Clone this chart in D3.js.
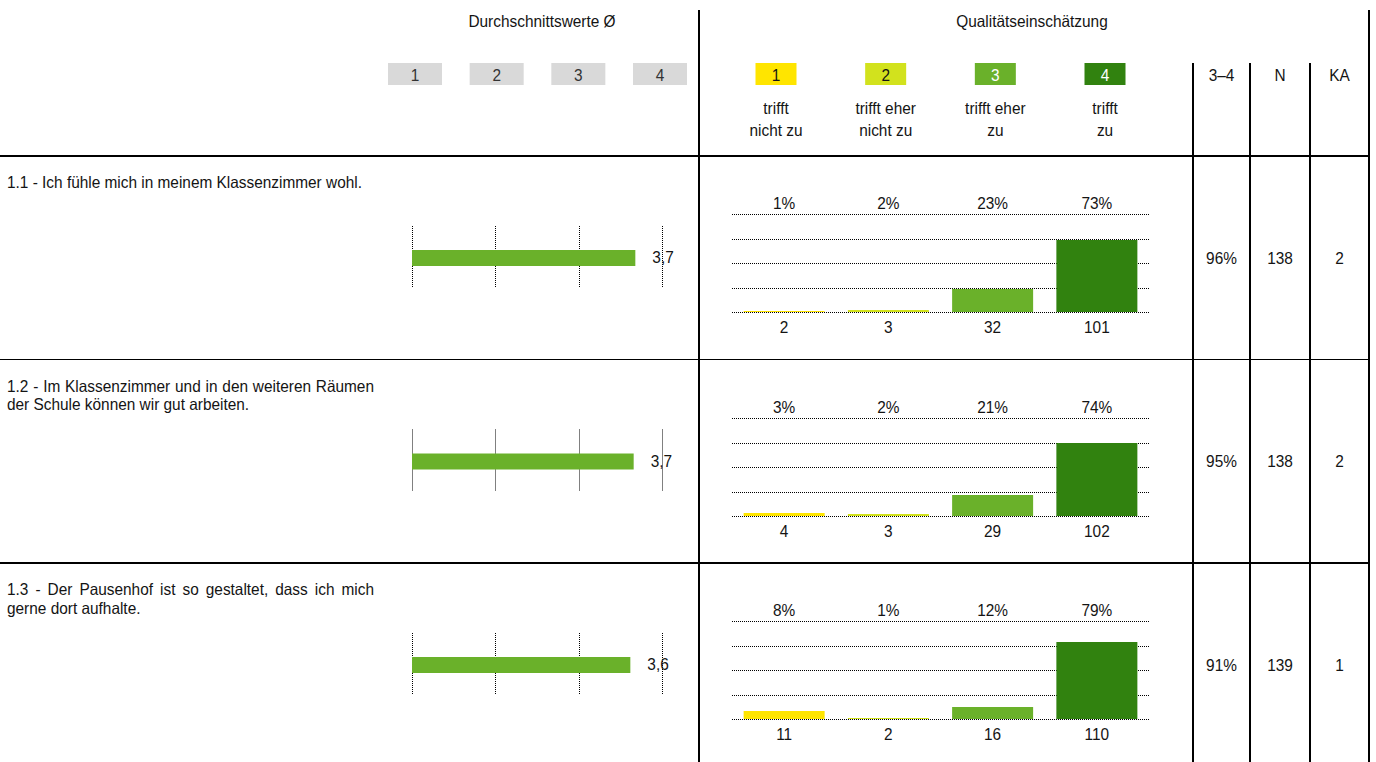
<!DOCTYPE html>
<html>
<head>
<meta charset="utf-8">
<script src="https://cdn.jsdelivr.net/npm/d3@7"></script>
<style>
  body { margin: 0; background: #fff; }
  text { font-family: "Liberation Sans", Arial, sans-serif; font-size: 16.3px; fill: #141414; }
</style>
</head>
<body>
<svg id="chart" width="1376" height="762"></svg>
<script>
// Survey items (one entry per row, one string per printed line)
const questions = [
  ["1.1 - Ich fühle mich in meinem Klassenzimmer wohl."],
  ["1.2 - Im Klassenzimmer und in den weiteren Räumen", "der Schule können wir gut arbeiten."],
  ["1.3 - Der Pausenhof ist so gestaltet, dass ich mich", "gerne dort aufhalte."]
];
const scaleSteps = [1, 2, 3, 4];
const answerLabels = [
  ["trifft", "nicht zu"],
  ["trifft eher", "nicht zu"],
  ["trifft eher", "zu"],
  ["trifft", "zu"]
];
// Answer counts per step 1..4
const counts = [
  [2, 3, 32, 101],
  [4, 3, 29, 102],
  [11, 2, 16, 110]
];
// Share of answers per step, in percent
const percents = [
  [1, 2, 23, 73],
  [3, 2, 21, 74],
  [8, 1, 12, 79]
];
const means = [3.68, 3.66, 3.62];
const topTwo = [96, 95, 91];      // share of answers 3–4, percent
const totalN = [138, 138, 139];
const noAnswer = [2, 2, 1];
const sideHeaders = ["3–4", "N", "KA"];

const colors = ["#ffe500", "#d2e21d", "#6ab12a", "#31820f"];
const ink = "#141414";

// the report font is set slightly condensed
const SX = 0.945;
const place = (x, y) => `translate(${x},${y}) scale(${SX},1)`;

const svg = d3.select("#chart");
const W = 1376, H = 762;
svg.append("rect").attr("width", W).attr("height", H).attr("fill", "#fff");

const rowTop = i => 156 + i * 203.5;

// ---------- scales ----------
const meanX = d3.scaleLinear().domain([1, 4]).range([412, 662]);
const meanHead = d3.scalePoint().domain(scaleSteps).range([415, 660]);
const legendX = d3.scalePoint().domain(scaleSteps).range([776, 1105]);
const barX = d3.scaleBand().domain(scaleSteps).range([732, 1149])
  .paddingInner(0.223).paddingOuter(0.1115);
const pctY = d3.scaleLinear().domain([0, 100]).range([0, 98]);
const sideX = d3.scaleOrdinal().domain(sideHeaders).range([1221.5, 1280, 1339.5]);
const fmtMean = v => d3.format(".1f")(v).replace(".", ",");

// ---------- table frame ----------
const frame = svg.append("g").attr("stroke", "#000").attr("stroke-width", 1.2).attr("shape-rendering", "crispEdges");
[0, 1, 2].forEach(i => {
  frame.append("line").attr("x1", 0).attr("x2", 1369).attr("y1", rowTop(i)).attr("y2", rowTop(i));
});
frame.append("line").attr("x1", 699).attr("x2", 699).attr("y1", 10).attr("y2", H);
frame.append("line").attr("x1", 1369).attr("x2", 1369).attr("y1", 10).attr("y2", H);
[1193, 1250, 1310].forEach(x => {
  frame.append("line").attr("x1", x).attr("x2", x).attr("y1", 63).attr("y2", H);
});

// ---------- header ----------
const head = svg.append("g");
head.append("text").attr("transform", place(542, 27)).attr("text-anchor", "middle").text("Durchschnittswerte Ø");
head.append("text").attr("transform", place(1032, 27)).attr("text-anchor", "middle").text("Qualitätseinschätzung");

const mh = head.selectAll(".mh").data(scaleSteps).join("g").attr("class", "mh");
mh.append("rect").attr("x", d => meanHead(d) - 27).attr("y", 63).attr("width", 54).attr("height", 22).attr("fill", "#d9d9d9");
mh.append("text").attr("transform", d => place(meanHead(d), 80.5)).attr("text-anchor", "middle")
  .style("fill", "#333").text(d => d);

const lg = head.selectAll(".lg").data(scaleSteps).join("g").attr("class", "lg");
lg.append("rect").attr("x", d => legendX(d) - 20.5).attr("y", 63).attr("width", 41).attr("height", 22).attr("fill", (d, i) => colors[i]);
lg.append("text").attr("transform", d => place(legendX(d), 80.5)).attr("text-anchor", "middle")
  .style("fill", d => d >= 3 ? "#fff" : ink).text(d => d);
lg.each(function (d, i) {
  d3.select(this).selectAll(".al").data(answerLabels[i]).join("text").attr("class", "al")
    .attr("transform", (t, j) => place(legendX(d), 114 + j * 21.5)).attr("text-anchor", "middle").text(t => t);
});

head.selectAll(".sh").data(sideHeaders).join("text").attr("class", "sh")
  .attr("transform", d => place(sideX(d), 80.5)).attr("text-anchor", "middle").text(d => d);

// ---------- rows ----------
questions.forEach((lines, i) => {
  const top = rowTop(i);
  const g = svg.append("g");

  // question text, non-final lines justified to the column width
  lines.forEach((line, j) => {
    const t = g.append("text").attr("transform", place(7, top + 32 + j * 18.5)).text(line);
    if (j < lines.length - 1) {
      const natural = t.node().getComputedTextLength();
      const gaps = (line.match(/ /g) || []).length;
      const target = (374 - 7) / SX;
      if (gaps > 0 && natural < target) t.attr("word-spacing", (target - natural) / gaps);
    }
  });

  // mean bar with dotted reference lines
  g.selectAll(".mg").data(scaleSteps).join("line").attr("class", "mg")
    .attr("x1", d => Math.round(meanX(d)) + 0.5).attr("x2", d => Math.round(meanX(d)) + 0.5)
    .attr("y1", top + 70).attr("y2", top + 132)
    .attr("stroke", "#000").attr("stroke-width", 1).attr("stroke-dasharray", "1,1");
  g.append("rect").attr("x", meanX(1)).attr("y", top + 94).attr("width", meanX(means[i]) - meanX(1)).attr("height", 16)
    .attr("fill", colors[2]);
  g.append("text").attr("transform", place(meanX(means[i]) + 17, top + 107)).text(fmtMean(means[i]));

  // distribution bars, snapped to whole pixels so thin bars stay visible
  const base = Math.round(top + 156);
  const barH = d => Math.max(1, Math.round(pctY(d)));
  g.selectAll(".qg").data([0, 25, 50, 75, 100]).join("line").attr("class", "qg")
    .attr("x1", 732).attr("x2", 1149)
    .attr("y1", d => Math.round(base - pctY(d)) + 0.5).attr("y2", d => Math.round(base - pctY(d)) + 0.5)
    .attr("stroke", "#000").attr("stroke-width", 1).attr("stroke-dasharray", "1,1");
  g.selectAll(".qb").data(percents[i]).join("rect").attr("class", "qb")
    .attr("x", (d, k) => barX(scaleSteps[k])).attr("width", barX.bandwidth())
    .attr("y", d => base - barH(d)).attr("height", d => barH(d))
    .attr("fill", (d, k) => colors[k]);
  g.selectAll(".qp").data(percents[i]).join("text").attr("class", "qp")
    .attr("transform", (d, k) => place(barX(scaleSteps[k]) + barX.bandwidth() / 2, top + 53))
    .attr("text-anchor", "middle").text(d => d + "%");
  g.selectAll(".qc").data(counts[i]).join("text").attr("class", "qc")
    .attr("transform", (d, k) => place(barX(scaleSteps[k]) + barX.bandwidth() / 2, top + 177))
    .attr("text-anchor", "middle").text(d => d);

  // summary columns
  const side = [topTwo[i] + "%", totalN[i], noAnswer[i]];
  g.selectAll(".sv").data(side).join("text").attr("class", "sv")
    .attr("transform", (d, k) => place(sideX(sideHeaders[k]), top + 107.5))
    .attr("text-anchor", "middle").text(d => d);
});
</script>
</body>
</html>
